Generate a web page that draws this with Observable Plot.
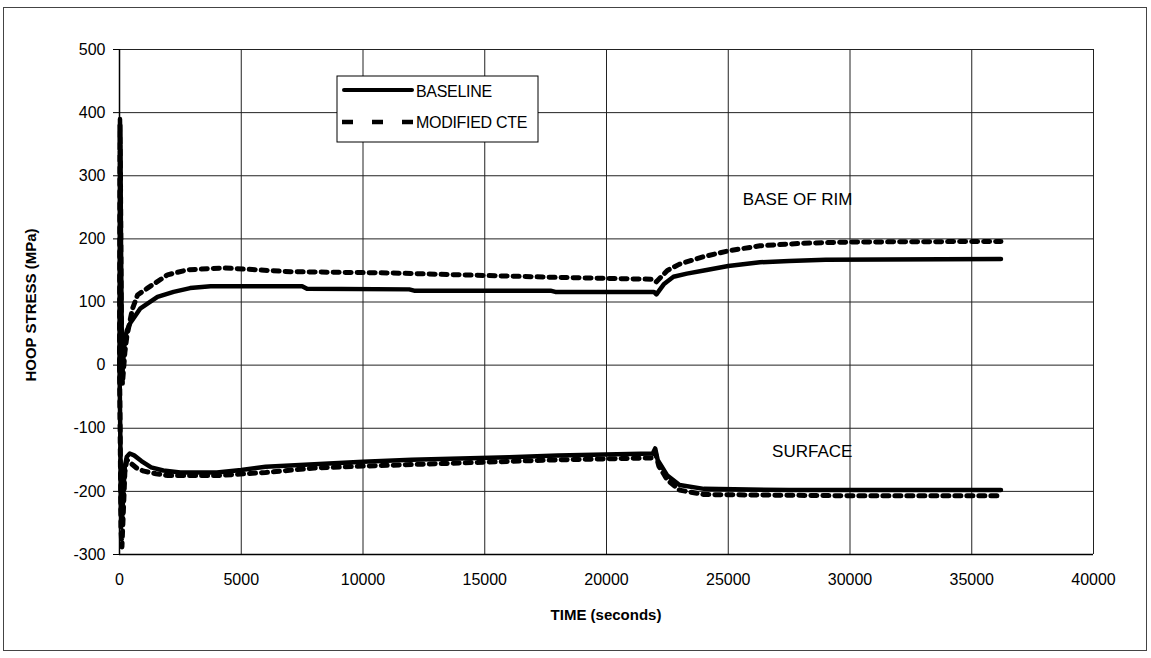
<!DOCTYPE html>
<html>
<head>
<meta charset="utf-8">
<script src="https://cdn.jsdelivr.net/npm/d3@7"></script>
<script src="https://cdn.jsdelivr.net/npm/@observablehq/plot@0.6"></script>
<style>
  html, body { margin: 0; padding: 0; background: #fff; }
  #chart { position: relative; width: 1151px; height: 658px; }
  svg { font-family: "Liberation Sans", Arial, sans-serif; }
</style>
</head>
<body>
<div id="chart"></div>
<script>
// Hoop stress history (MPa) against time (s), base of rim and surface locations
const rimBaselineTime   = [0, 20, 40, 60, 90, 120, 160, 220, 300, 450, 860, 1560, 2220, 2900, 3740, 7500, 7700, 11900, 12100, 17700, 17900, 21950, 22050, 22350, 22750, 23300, 24000, 25000, 26300, 27500, 29000, 36200];
const rimBaselineStress = [0, 390, 330, 200, 60, -12, 10, 40, 55, 67, 90, 108, 116, 122, 125, 125, 121, 120, 118, 118, 116, 116, 112, 128, 140, 145, 150, 157, 163, 165, 167, 168];

const rimModifiedTime   = [0, 20, 40, 60, 90, 120, 160, 220, 300, 530, 740, 1150, 1970, 2790, 4270, 7020, 11130, 13060, 18000, 21900, 22050, 22500, 23000, 24000, 25000, 26300, 28000, 30000, 36200];
const rimModifiedStress = [0, 380, 300, 150, 20, -30, -10, 20, 45, 89, 111, 122, 143, 151, 154, 148, 146, 144, 139, 136, 132, 150, 160, 172, 181, 189, 193, 195, 196];

const surfBaselineTime   = [0, 30, 60, 100, 160, 220, 300, 420, 600, 900, 1300, 1800, 2500, 4000, 5000, 6000, 8000, 10000, 12000, 14000, 16000, 18000, 21900, 22000, 22100, 22500, 23000, 24000, 27500, 36200];
const surfBaselineStress = [0, -100, -230, -252, -200, -160, -145, -140, -143, -152, -162, -167, -170, -170, -166, -161, -157, -153, -150, -148, -146, -143, -140, -132, -150, -175, -190, -196, -198, -198];

const surfModifiedTime   = [0, 30, 60, 100, 160, 220, 300, 450, 700, 1000, 1500, 2000, 4000, 6000, 8000, 10000, 14000, 18000, 21900, 22000, 22150, 22500, 23000, 24000, 30000, 36200];
const surfModifiedStress = [0, -120, -260, -288, -230, -170, -150, -155, -163, -168, -172, -175, -175, -170, -163, -160, -155, -150, -147, -138, -160, -182, -198, -205, -207, -207];

const xTicks = [0, 5000, 10000, 15000, 20000, 25000, 30000, 35000, 40000];
const yTicks = [-300, -200, -100, 0, 100, 200, 300, 400, 500];

const toRows = (t, s) => t.map((d, i) => ({time: d, stress: s[i]}));

const solid = {stroke: "black", strokeWidth: 4.5, strokeLinejoin: "round", curve: "linear"};
const dotted = {stroke: "black", strokeWidth: 5, strokeDasharray: "6,6", curve: "linear"};

const plot = Plot.plot({
  width: 1151,
  height: 658,
  marginLeft: 119,
  marginRight: 58,
  marginTop: 49,
  marginBottom: 104,
  style: {fontFamily: "Liberation Sans, Arial, sans-serif", fontSize: "16px", color: "black", background: "white"},
  x: {domain: [0, 40000], label: null},
  y: {domain: [-300, 500], label: null},
  marks: [
    Plot.gridX(xTicks, {stroke: "#222", strokeOpacity: 1, strokeWidth: 1}),
    Plot.gridY(yTicks, {stroke: "#222", strokeOpacity: 1, strokeWidth: 1}),
    Plot.axisX({ticks: xTicks, tickFormat: d => String(d), fontSize: 16, tickSize: 0, tickPadding: 19, label: null}),
    Plot.axisY({ticks: yTicks, tickFormat: d => String(d), fontSize: 16, tickSize: 6, tickPadding: 8, label: null}),
    Plot.ruleY([-300], {stroke: "black", strokeWidth: 1.5}),
    Plot.ruleX([0], {stroke: "black", strokeWidth: 1.5}),
    Plot.line(toRows(rimModifiedTime, rimModifiedStress), {x: "time", y: "stress", ...dotted}),
    Plot.line(toRows(surfModifiedTime, surfModifiedStress), {x: "time", y: "stress", ...dotted}),
    Plot.line(toRows(rimBaselineTime, rimBaselineStress), {x: "time", y: "stress", ...solid}),
    Plot.line(toRows(surfBaselineTime, surfBaselineStress), {x: "time", y: "stress", ...solid}),
    Plot.text([{x: 27850, y: 262, t: "BASE OF RIM"}], {x: "x", y: "y", text: "t", fontSize: 17, fill: "black"}),
    Plot.text([{x: 28450, y: -137, t: "SURFACE"}], {x: "x", y: "y", text: "t", fontSize: 17, fill: "black"})
  ]
});

const svg = d3.select(plot);

// Outer frame around the chart
svg.append("rect")
  .attr("x", 3.5).attr("y", 7.5).attr("width", 1143).attr("height", 643)
  .attr("fill", "none").attr("stroke", "#444").attr("stroke-width", 1);

// Axis titles
svg.append("text")
  .attr("x", 606).attr("y", 620)
  .attr("text-anchor", "middle")
  .attr("font-size", 15).attr("font-weight", "bold")
  .text("TIME (seconds)");
svg.append("text")
  .attr("transform", "translate(36,305) rotate(-90)")
  .attr("text-anchor", "middle")
  .attr("font-size", 15).attr("font-weight", "bold")
  .text("HOOP STRESS (MPa)");

// Legend box
const lg = svg.append("g").attr("transform", "translate(337,76)");
lg.append("rect").attr("width", 201).attr("height", 66)
  .attr("fill", "white").attr("stroke", "black").attr("stroke-width", 1);
lg.append("line").attr("x1", 7).attr("x2", 75).attr("y1", 14).attr("y2", 14)
  .attr("stroke", "black").attr("stroke-width", 4).attr("stroke-linecap", "round");
lg.append("text").attr("x", 79).attr("y", 21).attr("font-size", 16)
  .attr("text-anchor", "start").attr("letter-spacing", "-0.3").text("BASELINE");
lg.append("line").attr("x1", 5).attr("x2", 78).attr("y1", 46).attr("y2", 46)
  .attr("stroke", "black").attr("stroke-width", 4.5).attr("stroke-dasharray", "11,19");
lg.append("text").attr("x", 79).attr("y", 52).attr("font-size", 16)
  .attr("text-anchor", "start").attr("letter-spacing", "-0.3").text("MODIFIED CTE");

document.getElementById("chart").appendChild(plot);
</script>
</body>
</html>
